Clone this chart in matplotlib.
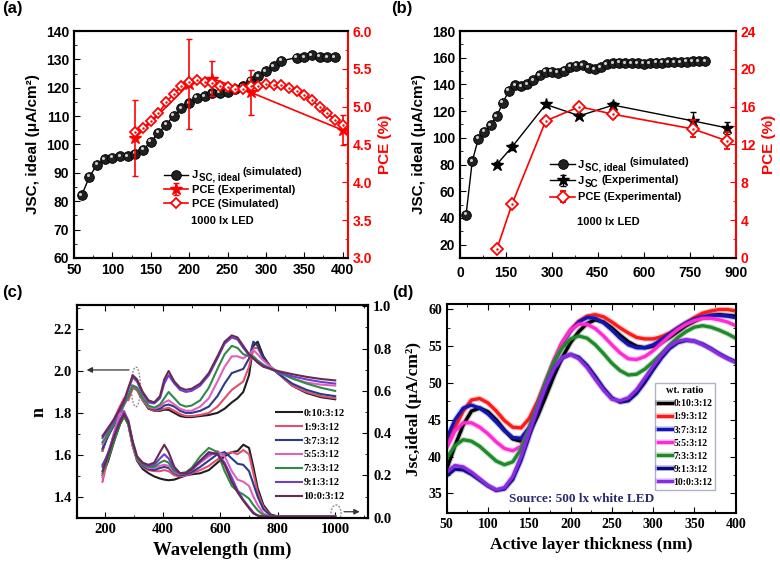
import matplotlib
matplotlib.use("Agg")
import matplotlib.pyplot as plt
import matplotlib.patheffects as pe
from matplotlib.ticker import MultipleLocator
from matplotlib.patches import Ellipse
from matplotlib import transforms

plt.rcParams['font.family'] = 'Liberation Sans'
plt.rcParams['font.weight'] = 'bold'
plt.rcParams['axes.labelweight'] = 'bold'
plt.rcParams['axes.linewidth'] = 1.5

# ---------------- (a) data ----------------
a_x_sim = [60, 70, 80, 90, 100, 110, 120, 130, 140, 150, 160, 170, 180, 190, 200,
           210, 220, 230, 240, 250, 260, 270, 280, 290, 300, 310, 320,
           340, 350, 360, 370, 380, 390]
a_jsc_sim = [82.1, 88.6, 92.9, 94.8, 95.4, 95.9, 95.9, 96.8, 98.1, 101.0, 104.1, 107.0, 110.2, 112.8, 114.6,
             116.4, 117.0, 118.0, 118.3, 118.6, 119.6, 120.6, 122.5, 124.0, 125.8, 127.6, 129.5,
             130.6, 130.8, 131.4, 131.0, 130.8, 130.7]
a_x_pce_sim = [130, 140, 150, 160, 170, 180, 190, 200, 210, 220, 230, 240, 250, 260,
               270, 280, 290, 300, 310, 320, 330, 340, 350, 360, 370, 380, 390, 400]
a_pce_sim = [4.67, 4.72, 4.81, 4.91, 5.06, 5.17, 5.27, 5.32, 5.35, 5.33, 5.31, 5.27, 5.26, 5.24,
             5.24, 5.27, 5.27, 5.30, 5.29, 5.29, 5.25, 5.21, 5.16, 5.09, 4.99, 4.91, 4.83, 4.76]
a_x_pce_exp = [130, 200, 230, 280, 400]
a_pce_exp = [4.59, 5.30, 5.37, 5.19, 4.69]
a_pce_err = [0.50, 0.60, 0.23, 0.30, 0.20]

# ---------------- (b) data ----------------
b_x_sim = [20, 40, 60, 80, 100, 120, 140, 160, 180, 200, 220, 240, 260, 280, 300, 320, 340, 360, 380, 400,
           420, 440, 460, 480, 500, 520, 540, 560, 580, 600, 620, 640, 660, 680, 700, 720, 740, 760, 780, 800]
b_jsc_sim = [42.5, 82.3, 99.4, 104.4, 109.4, 116.1, 126.4, 135.2, 139.4, 138.7, 140.2, 143.2, 146.9, 149.4,
             149.4, 148.9, 150.2, 153.2, 153.9, 154.4, 152.4, 151.2, 153.0, 155.0, 156.0, 156.2, 156.0,
             156.0, 155.8, 155.5, 155.8, 156.2, 156.4, 156.6, 156.5, 156.5, 156.8, 157.2, 157.3, 157.3]
b_x_exp = [120, 170, 280, 390, 500, 760, 870]
b_jsc_exp = [80.0, 93.2, 125.0, 116.5, 124.5, 112.7, 107.5]
b_jsc_err = [2.0, 2.5, 2.0, 2.0, 2.0, 6.3, 4.5]
b_pce_exp = [0.9, 5.7, 14.5, 16.0, 15.2, 13.65, 12.4]
b_pce_err = [0.2, 0.3, 0.3, 0.3, 0.4, 0.9, 0.9]

# ---------------- (c) data ----------------
c_labels = ['0:10:3:12', '1:9:3:12', '3:7:3:12', '5:5:3:12', '7:3:3:12', '9:1:3:12', '10:0:3:12']
c_colors = ['#1f1f1f', '#e0506e', '#2b3a8c', '#e060c0', '#2e8b45', '#6a40d0', '#6b2850']
c_wl = [190, 210, 230, 250, 265, 280, 295, 310, 330, 350, 370, 390, 405, 420, 440, 460, 480, 500,
        530, 560, 590, 615, 640, 660, 680, 700, 715, 730, 750, 775, 800, 850, 900, 950, 1000]
c_n_0_10 = [1.62, 1.70, 1.76, 1.82, 1.86, 1.87, 1.92, 1.91, 1.86, 1.82, 1.81, 1.81, 1.815, 1.815, 1.80, 1.785,
            1.78, 1.78, 1.785, 1.79, 1.80, 1.82, 1.85, 1.87, 1.90, 1.98, 2.12, 2.14, 2.07, 2.02, 1.99,
            1.93, 1.895, 1.875, 1.865]
c_n_1_9 = [1.62, 1.72, 1.77, 1.83, 1.87, 1.86, 1.92, 1.91, 1.86, 1.825, 1.81, 1.815, 1.82, 1.825, 1.81, 1.795,
           1.785, 1.785, 1.79, 1.80, 1.83, 1.87, 1.91, 1.93, 1.95, 2.02, 2.11, 2.11, 2.06, 2.02, 1.99,
           1.93, 1.90, 1.88, 1.87]
c_n_3_7 = [1.63, 1.69, 1.74, 1.79, 1.84, 1.88, 1.93, 1.92, 1.87, 1.83, 1.815, 1.82, 1.835, 1.84, 1.83, 1.81,
           1.80, 1.80, 1.81, 1.83, 1.88, 1.94, 1.99, 2.00, 2.01, 2.06, 2.14, 2.12, 2.06, 2.02, 1.99,
           1.94, 1.91, 1.89, 1.88]
c_n_5_5 = [1.65, 1.70, 1.75, 1.80, 1.84, 1.88, 1.93, 1.92, 1.87, 1.83, 1.82, 1.83, 1.85, 1.86, 1.84, 1.82,
           1.81, 1.81, 1.83, 1.87, 1.95, 2.02, 2.07, 2.07, 2.06, 2.08, 2.10, 2.08, 2.05, 2.02, 1.995,
           1.965, 1.945, 1.935, 1.93]
c_n_7_3 = [1.66, 1.70, 1.75, 1.80, 1.84, 1.88, 1.93, 1.92, 1.87, 1.835, 1.825, 1.84, 1.87, 1.90, 1.87, 1.84,
           1.83, 1.835, 1.86, 1.92, 2.01, 2.08, 2.12, 2.11, 2.08, 2.07, 2.07, 2.05, 2.03, 2.01, 1.995,
           1.965, 1.94, 1.92, 1.905]
c_n_9_1 = [1.68, 1.72, 1.76, 1.81, 1.85, 1.91, 1.97, 1.95, 1.89, 1.85, 1.845, 1.87, 1.94, 1.98, 1.94, 1.91,
           1.90, 1.905, 1.93, 1.98, 2.06, 2.13, 2.16, 2.15, 2.11, 2.075, 2.06, 2.045, 2.025, 2.01, 1.995,
           1.975, 1.96, 1.948, 1.94]
c_n_10_0 = [1.69, 1.73, 1.77, 1.82, 1.86, 1.92, 1.98, 1.96, 1.90, 1.86, 1.85, 1.88, 1.96, 2.00, 1.95, 1.92,
            1.91, 1.915, 1.94, 1.99, 2.07, 2.14, 2.17, 2.16, 2.12, 2.08, 2.06, 2.04, 2.02, 2.01, 2.00,
            1.985, 1.972, 1.962, 1.955]
c_k_0_10 = [0.20, 0.27, 0.36, 0.44, 0.48, 0.44, 0.34, 0.27, 0.23, 0.21, 0.195, 0.185, 0.18, 0.177, 0.18, 0.19,
            0.20, 0.205, 0.21, 0.225, 0.26, 0.29, 0.31, 0.315, 0.345, 0.33, 0.24, 0.14, 0.06, 0.015, 0.006,
            0.005, 0.005, 0.005, 0.005]
c_k_1_9 = [0.17, 0.29, 0.40, 0.49, 0.505, 0.44, 0.34, 0.275, 0.24, 0.225, 0.22, 0.22, 0.225, 0.22, 0.20, 0.195,
           0.20, 0.21, 0.225, 0.245, 0.275, 0.30, 0.31, 0.30, 0.32, 0.30, 0.21, 0.12, 0.05, 0.01, 0.006,
           0.006, 0.006, 0.007, 0.008]
c_k_3_7 = [0.25, 0.30, 0.37, 0.44, 0.48, 0.45, 0.35, 0.28, 0.245, 0.23, 0.225, 0.235, 0.24, 0.235, 0.21, 0.20,
           0.205, 0.215, 0.24, 0.27, 0.30, 0.31, 0.28, 0.255, 0.25, 0.22, 0.16, 0.10, 0.04, 0.01, 0.005,
           0.005, 0.005, 0.005, 0.005]
c_k_5_5 = [0.19, 0.30, 0.40, 0.49, 0.50, 0.44, 0.34, 0.28, 0.25, 0.235, 0.235, 0.245, 0.25, 0.245, 0.215, 0.205,
           0.21, 0.225, 0.26, 0.29, 0.315, 0.29, 0.22, 0.18, 0.17, 0.15, 0.10, 0.06, 0.02, 0.005, 0.005,
           0.005, 0.005, 0.005, 0.005]
c_k_7_3 = [0.21, 0.28, 0.36, 0.44, 0.48, 0.44, 0.35, 0.28, 0.25, 0.24, 0.24, 0.26, 0.27, 0.26, 0.22, 0.21,
           0.215, 0.235, 0.29, 0.33, 0.31, 0.22, 0.15, 0.125, 0.11, 0.09, 0.06, 0.035, 0.012, 0.005, 0.005,
           0.005, 0.005, 0.005, 0.005]
c_k_9_1 = [0.24, 0.31, 0.39, 0.46, 0.50, 0.46, 0.36, 0.29, 0.255, 0.245, 0.25, 0.28, 0.30, 0.28, 0.23, 0.21,
           0.21, 0.225, 0.265, 0.30, 0.305, 0.26, 0.19, 0.13, 0.085, 0.05, 0.025, 0.01, 0.005, 0.005, 0.005,
           0.005, 0.005, 0.005, 0.005]
c_k_10_0 = [0.22, 0.30, 0.38, 0.45, 0.49, 0.45, 0.36, 0.29, 0.26, 0.25, 0.26, 0.31, 0.345, 0.31, 0.24, 0.21,
            0.21, 0.23, 0.27, 0.31, 0.30, 0.25, 0.17, 0.12, 0.08, 0.045, 0.02, 0.01, 0.005, 0.005, 0.005,
            0.005, 0.005, 0.005, 0.005]
c_n_all = [c_n_0_10, c_n_1_9, c_n_3_7, c_n_5_5, c_n_7_3, c_n_9_1, c_n_10_0]
c_k_all = [c_k_0_10, c_k_1_9, c_k_3_7, c_k_5_5, c_k_7_3, c_k_9_1, c_k_10_0]

# ---------------- (d) data ----------------
d_labels = c_labels
d_colors = ['#000000', '#ff1a1a', '#1414b4', '#ff2ad4', '#1f8a2a', '#0a0a80', '#8a2be2']
d_thick = [50, 60, 70, 80, 90, 100, 110, 120, 130, 140, 150, 160, 170, 180, 190, 200, 210, 220,
           230, 240, 250, 260, 270, 280, 290, 300, 310, 320, 330, 340, 350, 360, 370, 380, 390, 400]
d_0_10 = [38.3, 41.5, 44.3, 46.2, 46.6, 46.1, 45.0, 43.6, 42.4, 42.1, 43.2, 45.5, 48.2, 51.0, 53.5, 55.5, 57.0, 58.1,
          58.6, 58.3, 57.5, 56.5, 55.6, 55.0, 54.8, 55.0, 55.5, 56.2, 57.0, 57.8, 58.4, 58.9, 59.2, 59.3, 59.2, 59.1]
d_1_9 = [41.5, 44.0, 46.2, 47.7, 47.9, 47.3, 46.2, 44.9, 44.0, 43.9, 45.2, 47.5, 50.3, 53.1, 55.5, 57.2, 58.4, 59.1,
         59.3, 59.0, 58.3, 57.5, 56.8, 56.2, 56.0, 56.0, 56.3, 56.8, 57.5, 58.2, 58.9, 59.5, 59.8, 60.0, 60.0, 59.8]
d_3_7 = [42.5, 45.0, 46.6, 47.0, 46.6, 45.8, 44.7, 43.5, 42.6, 42.5, 44.0, 46.8, 49.9, 52.8, 55.3, 57.1, 58.3, 58.9,
         58.8, 58.2, 57.2, 56.1, 55.2, 54.8, 54.8, 55.2, 55.9, 56.7, 57.5, 58.2, 58.7, 59.0, 59.2, 59.2, 59.1, 58.9]
d_5_5 = [41.2, 43.5, 44.6, 44.6, 44.0, 43.1, 42.0, 41.1, 40.8, 41.4, 43.6, 46.7, 50.0, 53.0, 55.5, 57.2, 58.0, 58.0,
         57.4, 56.4, 55.2, 54.1, 53.3, 53.2, 53.6, 54.4, 55.4, 56.4, 57.3, 58.0, 58.5, 58.8, 58.8, 58.6, 58.3, 57.8]
d_7_3 = [39.8, 41.5, 42.3, 42.1, 41.4, 40.4, 39.4, 38.9, 39.3, 41.0, 43.8, 47.0, 50.2, 52.9, 54.8, 56.0, 56.4, 56.1,
         55.2, 54.0, 52.7, 51.7, 51.1, 51.2, 51.9, 52.9, 54.0, 55.2, 56.2, 57.0, 57.6, 57.8, 57.6, 57.2, 56.7, 56.1]
d_9_1 = [37.4, 38.3, 38.2, 37.6, 36.8, 36.0, 35.4, 35.6, 36.9, 39.5, 42.8, 46.2, 49.3, 51.8, 53.4, 53.9, 53.5, 52.4,
         50.9, 49.3, 48.0, 47.4, 47.6, 48.6, 50.1, 51.8, 53.4, 54.7, 55.5, 55.8, 55.7, 55.3, 54.7, 54.0, 53.4, 52.9]
d_10_0 = [37.9, 38.8, 38.6, 37.9, 37.0, 36.1, 35.5, 35.8, 37.3, 40.0, 43.3, 46.6, 49.6, 52.0, 53.5, 53.9, 53.3, 52.1,
          50.5, 49.0, 47.8, 47.6, 48.0, 49.1, 50.7, 52.3, 53.8, 55.0, 55.7, 55.9, 55.7, 55.2, 54.6, 53.9, 53.3, 52.8]
d_all = [d_0_10, d_1_9, d_3_7, d_5_5, d_7_3, d_9_1, d_10_0]

fig = plt.figure(figsize=(7.8, 5.67), dpi=100)


def spheres(ax, x, y):
    line, = ax.plot(x, y, '-', color='black', lw=1.0, marker='o', ms=7, mfc='#202020',
                    mec='black', mew=0.6, zorder=4)
    hl = transforms.offset_copy(ax.transData, fig=fig, x=-1.1, y=1.1, units='points')
    ax.plot(x, y, 'o', ms=2.2, mfc='#cfcfcf', mec='none', transform=hl, zorder=5)
    return line


def red_right(ax2):
    ax2.spines['right'].set_color('red')
    ax2.tick_params(axis='y', which='both', colors='red', direction='in')
    ax2.yaxis.label.set_color('red')


# ================= (a) =================
ax_a = fig.add_axes([0.0949, 0.545, 0.3513, 0.4003])
h1 = spheres(ax_a, a_x_sim, a_jsc_sim)
ax_a.set_xlim(50, 407)
ax_a.set_ylim(60, 140)
ax_a.xaxis.set_major_locator(MultipleLocator(50))
ax_a.xaxis.set_minor_locator(MultipleLocator(25))
ax_a.yaxis.set_major_locator(MultipleLocator(10))
ax_a.yaxis.set_minor_locator(MultipleLocator(5))
ax_a.tick_params(which='both', direction='in', labelsize=10)
ax_a.tick_params(which='major', length=4)
ax_a.tick_params(which='minor', length=2.5)
ax_a.spines['right'].set_visible(False)
ax_a.set_ylabel('JSC, ideal (μA/cm²)', fontsize=11)

ax_a2 = ax_a.twinx()
eb = ax_a2.errorbar(a_x_pce_exp, a_pce_exp, yerr=a_pce_err, color='red', marker='*', ms=9, lw=1.2,
                    capsize=2.5, elinewidth=1.2, zorder=3)
h3, = ax_a2.plot(a_x_pce_sim, a_pce_sim, '-', color='red', lw=1.2, marker='D', ms=5.5, mfc='white',
                 mec='red', mew=1.3, zorder=4)
ax_a2.plot(a_x_pce_sim, a_pce_sim, '.', color='red', ms=1.5, zorder=5)
ax_a2.set_ylim(3.0, 6.0)
ax_a2.yaxis.set_major_locator(MultipleLocator(0.5))
ax_a2.yaxis.set_minor_locator(MultipleLocator(0.25))
ax_a2.tick_params(which='both', labelsize=10)
ax_a2.tick_params(which='major', length=4)
ax_a2.tick_params(which='minor', length=2.5)
ax_a2.set_ylabel('PCE (%)', fontsize=11)
red_right(ax_a2)
leg_a = ax_a2.legend([h1, eb, h3], ['J', 'PCE (Experimental)', 'PCE (Simulated)'],
                     loc='upper left', bbox_to_anchor=(0.3, 0.42), frameon=False, fontsize=8,
                     handlelength=2.2, handletextpad=0.3, labelspacing=0.4, borderpad=0.2)
ax_a2.text(0.542, 0.163, '1000 lx LED', transform=ax_a2.transAxes, ha='center', va='center', fontsize=8)

# ================= (b) =================
ax_b = fig.add_axes([0.5897, 0.545, 0.3535, 0.4003])
g1 = spheres(ax_b, b_x_sim, b_jsc_sim)
g2 = ax_b.errorbar(b_x_exp, b_jsc_exp, yerr=b_jsc_err, color='black', marker='*', ms=9, lw=1.0,
                   capsize=2.5, elinewidth=1.0, zorder=3)
ax_b.set_xlim(0, 900)
ax_b.set_ylim(10, 180)
ax_b.xaxis.set_major_locator(MultipleLocator(150))
ax_b.xaxis.set_minor_locator(MultipleLocator(75))
ax_b.yaxis.set_major_locator(MultipleLocator(20))
ax_b.yaxis.set_minor_locator(MultipleLocator(10))
ax_b.tick_params(which='both', direction='in', labelsize=10)
ax_b.tick_params(which='major', length=4)
ax_b.tick_params(which='minor', length=2.5)
ax_b.tick_params(axis='x', pad=6)
ax_b.spines['right'].set_visible(False)
ax_b.set_ylabel('JSC, ideal (μA/cm²)', fontsize=11)

ax_b2 = ax_b.twinx()
g3 = ax_b2.errorbar(b_x_exp, b_pce_exp, yerr=b_pce_err, color='red', lw=1.2, marker='D', ms=6,
                    mfc='white', mec='red', mew=1.3, capsize=2.5, elinewidth=1.2, zorder=4)
ax_b2.plot(b_x_exp, b_pce_exp, '.', color='red', ms=1.5, zorder=5)
ax_b2.set_ylim(0, 24)
ax_b2.yaxis.set_major_locator(MultipleLocator(4))
ax_b2.yaxis.set_minor_locator(MultipleLocator(2))
ax_b2.tick_params(which='both', labelsize=10)
ax_b2.tick_params(which='major', length=4)
ax_b2.tick_params(which='minor', length=2.5)
ax_b2.set_ylabel('PCE (%)', fontsize=11)
red_right(ax_b2)
leg_b = ax_b2.legend([g1, g2, g3], ['J', 'J', 'PCE (Experimental)'],
                     loc='upper left', bbox_to_anchor=(0.3, 0.465), frameon=False, fontsize=8,
                     handlelength=2.2, handletextpad=0.3, labelspacing=0.55, borderpad=0.2)
ax_b2.text(0.54, 0.16, '1000 lx LED', transform=ax_b2.transAxes, ha='center', va='center', fontsize=8)

# ================= (c) =================
serif = 'Liberation Serif'
ax_c = fig.add_axes([0.0983, 0.0859, 0.3738, 0.3762])
ax_c2 = ax_c.twinx()
handles = []
for lab, col, nv, kv in zip(c_labels, c_colors, c_n_all, c_k_all):
    h, = ax_c.plot(c_wl, nv, color=col, lw=1.5, label=lab)
    ax_c2.plot(c_wl, kv, color=col, lw=1.5)
    handles.append(h)
ax_c.set_xlim(100, 1115)
ax_c.set_ylim(1.297, 2.315)
ax_c2.set_ylim(-0.003, 1.006)
ax_c.xaxis.set_major_locator(MultipleLocator(200))
ax_c.xaxis.set_minor_locator(MultipleLocator(100))
ax_c.yaxis.set_major_locator(MultipleLocator(0.2))
ax_c.yaxis.set_minor_locator(MultipleLocator(0.1))
ax_c2.yaxis.set_major_locator(MultipleLocator(0.2))
ax_c2.yaxis.set_minor_locator(MultipleLocator(0.1))
ax_c.tick_params(which='both', direction='in', top=True, labelsize=10.5, labelfontfamily=serif)
ax_c2.tick_params(which='both', direction='in', labelsize=10.5, labelfontfamily=serif)
for a in (ax_c, ax_c2):
    a.tick_params(which='major', length=4)
    a.tick_params(which='minor', length=2.5)
ax_c.set_xlabel('Wavelength (nm)', fontsize=13.5, fontfamily=serif)
ax_c.set_ylabel('n', fontsize=13, fontfamily=serif)
ax_c2.legend(handles, c_labels, loc='upper left', bbox_to_anchor=(0.66, 0.55), frameon=False,
             prop={'family': serif, 'weight': 'bold', 'size': 7.5}, handlelength=2.5,
             handletextpad=0.1, labelspacing=0.45, borderpad=0.2)
ax_c.add_patch(Ellipse((306, 1.924), 31, 0.19, fill=False, ec='gray', lw=0.9, ls=(0, (1.5, 1.2))))
ax_c.annotate('', xy=(125, 2.005), xytext=(292, 2.005),
              arrowprops=dict(arrowstyle='-|>', color='#333333', lw=0.9, mutation_scale=8))
ax_c2.add_patch(Ellipse((1003, 0.02), 35, 0.08, fill=False, ec='gray', lw=0.9, ls=(0, (1.5, 1.2))))
ax_c2.annotate('', xy=(1095, 0.028), xytext=(1021, 0.028),
               arrowprops=dict(arrowstyle='-|>', color='#333333', lw=0.9, mutation_scale=8))

# ================= (d) =================
ax_d = fig.add_axes([0.5727, 0.0947, 0.3705, 0.3692])
dh = []
for lab, col, yv in zip(d_labels, d_colors, d_all):
    h, = ax_d.plot(d_thick, yv, color=col, lw=2.4, label=lab,
                   path_effects=[pe.Stroke(linewidth=4.0, foreground=col, alpha=0.25), pe.Normal()])
    dh.append(h)
ax_d.set_xlim(50, 400)
ax_d.set_ylim(32.3, 60.75)
ax_d.xaxis.set_major_locator(MultipleLocator(50))
ax_d.xaxis.set_minor_locator(MultipleLocator(25))
ax_d.yaxis.set_major_locator(MultipleLocator(5))
ax_d.yaxis.set_minor_locator(MultipleLocator(2.5))
ax_d.tick_params(which='both', direction='in', top=True, right=True, labelsize=10, labelfontfamily=serif)
ax_d.tick_params(which='major', length=4)
ax_d.tick_params(which='minor', length=2.5)
ax_d.set_xlabel('Active layer thickness (nm)', fontsize=12.5, fontfamily=serif)
ax_d.set_ylabel('Jsc,ideal (μA/cm²)', fontsize=12.5, fontfamily=serif)
leg = ax_d.legend(dh, d_labels, title='wt. ratio', loc='upper left', bbox_to_anchor=(0.715, 0.63),
                  frameon=True, fancybox=False, edgecolor='#9aa0c0',
                  prop={'family': serif, 'weight': 'bold', 'size': 7},
                  title_fontproperties={'family': serif, 'weight': 'bold', 'size': 7.5},
                  handlelength=1.4, handletextpad=0.15, labelspacing=0.42, borderpad=0.3,
                  borderaxespad=0.2)
leg.get_frame().set_linewidth(1.0)
ax_d.text(126, 34.3, 'Source: 500 lx white LED', fontsize=9.5, fontfamily=serif, color='#2b2b6b',
          ha='left', va='center')

# panel labels
for lab, x, y in [('(a)', 0.003, 0.998), ('(b)', 0.502, 0.998), ('(c)', 0.003, 0.498), ('(d)', 0.503, 0.498)]:
    fig.text(x, y, lab, fontsize=12, ha='left', va='top')

# subscripts / raised notes after the "J" legend entries
W, H = fig.bbox.width, fig.bbox.height


def j_entry(t, sub, note, note_dy):
    renderer = fig.canvas.get_renderer()
    bb = t.get_window_extent(renderer)
    base = t.get_transform().transform(t.get_position())[1]
    s = fig.text((bb.x1 + 0.5) / W, (base - 2.5) / H, sub, fontsize=7, ha='left', va='baseline')
    sb = s.get_window_extent(renderer)
    fig.text((sb.x1 + 3) / W, (base + note_dy) / H, note, fontsize=8, ha='left', va='baseline')


fig.canvas.draw()
j_entry(leg_a.get_texts()[0], 'SC, ideal', '(simulated)', 3.5)
j_entry(leg_b.get_texts()[0], 'SC, ideal', '(simulated)', 3.5)
j_entry(leg_b.get_texts()[1], 'SC', '(Experimental)', 1.0)

fig.savefig('out.png', dpi=100)
